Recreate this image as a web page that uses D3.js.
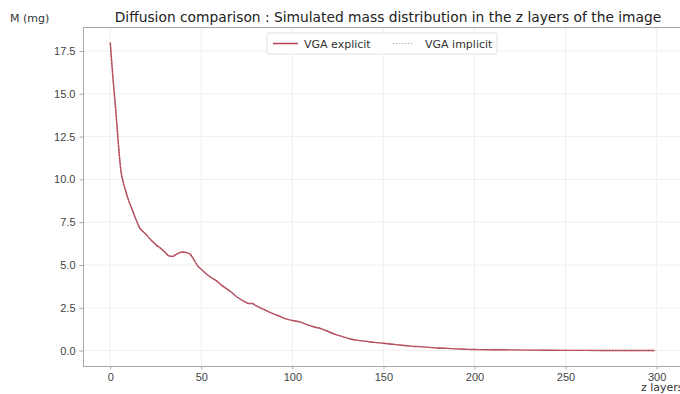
<!DOCTYPE html>
<html>
<head>
<meta charset="utf-8">
<script src="https://cdn.jsdelivr.net/npm/d3@7"></script>
<style>
  body { margin: 0; background: #fff; }
  svg { font-family: "DejaVu Sans", sans-serif; }
  .grid line { stroke: #ececec; stroke-width: 0.8; }
  .axis path, .axis line { stroke: #a8a8a8; }
  .axis text { fill: #444; font-size: 11px; }
</style>
</head>
<body>
<div id="chart"></div>
<script>
// values
var zLayers = [0, 1, 2, 3, 4, 5, 6, 7, 8, 10, 12, 14, 16, 18, 20, 22, 24, 26, 28, 30,
  32, 34, 36, 38, 40, 42, 44, 46, 48, 50, 52, 55, 58, 62, 66, 70, 74, 76, 78, 80,
  84, 88, 92, 96, 100, 104, 108, 112, 116, 120, 124, 128, 132, 136, 140, 145, 150,
  155, 160, 165, 170, 175, 180, 185, 190, 195, 200, 210, 220, 230, 240, 250, 260,
  270, 280, 290, 299];

var massExplicit = [18.0, 16.6, 15.3, 14.1, 12.7, 11.4, 10.4, 9.9, 9.5, 8.8, 8.25, 7.7,
  7.2, 6.95, 6.75, 6.5, 6.3, 6.1, 5.95, 5.75, 5.55, 5.5, 5.6, 5.72, 5.76, 5.72, 5.62,
  5.3, 4.95, 4.75, 4.55, 4.3, 4.1, 3.75, 3.45, 3.1, 2.85, 2.75, 2.75, 2.62, 2.42, 2.22,
  2.05, 1.87, 1.76, 1.68, 1.52, 1.38, 1.27, 1.1, 0.93, 0.8, 0.68, 0.6, 0.55, 0.48,
  0.43, 0.37, 0.31, 0.26, 0.23, 0.19, 0.15, 0.13, 0.1, 0.08, 0.06, 0.05, 0.04, 0.03,
  0.02, 0.015, 0.01, 0.008, 0.005, 0.003, 0.002];

var massImplicit = [18.0, 16.6, 15.3, 14.1, 12.7, 11.4, 10.4, 9.9, 9.5, 8.8, 8.25, 7.7,
  7.2, 6.95, 6.75, 6.5, 6.3, 6.1, 5.95, 5.75, 5.55, 5.5, 5.6, 5.72, 5.76, 5.72, 5.62,
  5.3, 4.95, 4.75, 4.55, 4.3, 4.1, 3.75, 3.45, 3.1, 2.85, 2.75, 2.75, 2.62, 2.42, 2.22,
  2.05, 1.87, 1.76, 1.68, 1.52, 1.38, 1.27, 1.1, 0.93, 0.8, 0.68, 0.6, 0.55, 0.48,
  0.43, 0.37, 0.31, 0.26, 0.23, 0.19, 0.15, 0.13, 0.1, 0.08, 0.06, 0.05, 0.04, 0.03,
  0.02, 0.015, 0.01, 0.008, 0.005, 0.003, 0.002];

var xTicks = [0, 50, 100, 150, 200, 250, 300];
var yTicks = [0, 2.5, 5, 7.5, 10, 12.5, 15, 17.5];
var seriesNames = ["VGA explicit", "VGA implicit"];

var width = 680, height = 394;
var margin = {top: 27, right: -2, bottom: 28, left: 83};

var svg = d3.select("#chart").append("svg")
    .attr("width", width)
    .attr("height", height);

var x = d3.scaleLinear()
    .domain([-14.95, 313.95])
    .range([margin.left, width - margin.right]);

var y = d3.scaleLinear()
    .domain([-0.9, 18.9])
    .range([height - margin.bottom, margin.top]);

// grid
var grid = svg.append("g").attr("class", "grid");
grid.selectAll(".vx").data(xTicks).enter().append("line")
    .attr("x1", d => x(d)).attr("x2", d => x(d))
    .attr("y1", y.range()[0]).attr("y2", y.range()[1]);
grid.selectAll(".hy").data(yTicks).enter().append("line")
    .attr("y1", d => y(d)).attr("y2", d => y(d))
    .attr("x1", x.range()[0]).attr("x2", x.range()[1]);

// top spine, no right spine
svg.append("line")
    .attr("x1", x.range()[0]).attr("x2", x.range()[1])
    .attr("y1", margin.top + 0.5).attr("y2", margin.top + 0.5)
    .attr("stroke", "#a8a8a8");

var xAxis = svg.append("g")
    .attr("class", "axis")
    .attr("transform", "translate(0," + (height - margin.bottom) + ")")
    .call(d3.axisBottom(x).tickValues(xTicks).tickSize(3.5).tickPadding(4)
      .tickFormat(d3.format("d")));
xAxis.select(".domain").attr("d", "M" + x.range()[0] + ",0.5H" + x.range()[1]);

var yAxis = svg.append("g")
    .attr("class", "axis")
    .attr("transform", "translate(" + margin.left + ",0)")
    .call(d3.axisLeft(y).tickValues(yTicks).tickSize(3.5).tickPadding(4)
      .tickFormat(d3.format(".1f")));
yAxis.select(".domain").attr("d", "M0.5," + y.range()[0] + "V" + y.range()[1]);

// lines
var line = (vals) => d3.line()
    .x((d, i) => x(zLayers[i]))
    .y(d => y(d))
    .curve(d3.curveMonotoneX)(vals);

svg.append("path")
    .attr("d", line(massExplicit))
    .attr("fill", "none")
    .attr("stroke", "#a83446")
    .attr("stroke-width", 1.4);

svg.append("path")
    .attr("d", line(massImplicit))
    .attr("fill", "none")
    .attr("stroke", "#e6b3bd")
    .attr("stroke-width", 0.8)
    .attr("stroke-dasharray", "1.5,1.5")
    .attr("opacity", 0.7);

// title and labels
svg.append("text")
    .attr("x", 388).attr("y", 22)
    .attr("text-anchor", "middle")
    .attr("font-size", 13.8)
    .attr("fill", "#222")
    .text("Diffusion comparison : Simulated mass distribution in the z layers of the image");

svg.append("text")
    .attr("x", 10).attr("y", 22)
    .attr("font-size", 11)
    .attr("fill", "#333")
    .text("M (mg)");

svg.append("text")
    .attr("x", 641).attr("y", 391)
    .attr("font-size", 11)
    .attr("fill", "#333")
    .text("z layers");

// legend
var legend = svg.append("g").attr("transform", "translate(267,33)");
legend.append("rect")
    .attr("width", 230).attr("height", 21)
    .attr("rx", 2)
    .attr("fill", "#fff")
    .attr("stroke", "#e2e2e2");

var legendItems = [
  {name: seriesNames[0], x: 6, len: 25, color: "#b8405a", dash: null, w: 1.5},
  {name: seriesNames[1], x: 126, len: 20, color: "#bbbbbb", dash: "1.5,1.5", w: 1}
];
legendItems.forEach(function(d) {
  legend.append("line")
    .attr("x1", d.x).attr("x2", d.x + d.len)
    .attr("y1", 10.5).attr("y2", 10.5)
    .attr("stroke", d.color)
    .attr("stroke-width", d.w)
    .attr("stroke-dasharray", d.dash);
  legend.append("text")
    .attr("x", d.x + d.len + (d.dash ? 12 : 6)).attr("y", 14.5)
    .attr("font-size", 11)
    .attr("fill", "#333")
    .text(d.name);
});
</script>
</body>
</html>
